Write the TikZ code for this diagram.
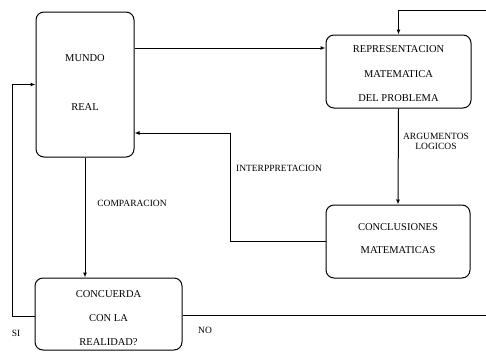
\documentclass[tikz,border=0pt]{standalone}
\usepackage{fontspec}
\setmainfont{Liberation Serif}
\usetikzlibrary{arrows.meta}
\begin{document}
\begin{tikzpicture}[x=1pt,y=-1pt,
  box/.style={draw,line width=1pt,rounded corners=8pt,inner sep=0pt},
  txt/.style={font=\fontsize{10.5}{12}\selectfont,align=center,inner sep=0pt},
  lbl/.style={font=\fontsize{9.5}{11}\selectfont,align=center,inner sep=0pt},
  conn/.style={line width=1pt},
  arr/.style={conn,-{Latex[length=5pt,width=4pt]}}]
\useasboundingbox (0,0) rectangle (486,351);
% boxes
\node[box,minimum width=98pt,minimum height=145pt] (mundo) at (85,84.5) {};
\node[box,minimum width=145pt,minimum height=73pt] (repr) at (398.5,71.5) {};
\node[box,minimum width=144pt,minimum height=73pt] (concl) at (398,241.5) {};
\node[box,minimum width=147pt,minimum height=72pt] (conc) at (108.5,314) {};
% box texts
\node[txt] (mundoT) at (85,82.5) {MUNDO\\[37pt]REAL};
\node[txt] (reprT) at (398.5,73.5) {REPRESENTACION\\[13.5pt]MATEMATICA\\[12pt]DEL PROBLEMA};
\node[txt] (conclT) at (398,238.5) {CONCLUSIONES\\[11pt]MATEMATICAS};
\node[txt] (concT) at (108.5,318) {CONCUERDA\\[12pt]CON LA\\[12pt]REALIDAD?};
% labels
\node[lbl] (lcomp) at (132,203) {COMPARACION};
\node[lbl] (linter) at (279,168) {INTERPPRETACION};
\node[lbl] (larg) at (436,141) {ARGUMENTOS\\[-1pt]LOGICOS};
\node[lbl] (lsi) at (16,333) {SI};
\node[lbl] (lno) at (205,330) {NO};
% coordinates
\coordinate (r1) at (0,48);
\coordinate (topR) at (486,10);
\coordinate (ip) at (230,133);
\coordinate (si) at (12,316);
\coordinate (noR) at (486,315);
% connectors
\draw[arr] (mundo.east |- r1) -- (repr.west |- r1);
\draw[arr] (topR) -- (repr.north |- topR) -- (repr.north);
\draw[arr] (repr.south) -- (concl.north);
\draw[arr] (concl.west) -| (ip) -- (mundo.east |- ip);
\draw[arr] (mundo.south) -- (mundo.south |- conc.north);
\draw[arr] (conc.west |- si) -- (si) |- (mundo.west);
\draw[conn] (conc.east |- noR) -- (noR);
\end{tikzpicture}
\end{document}
